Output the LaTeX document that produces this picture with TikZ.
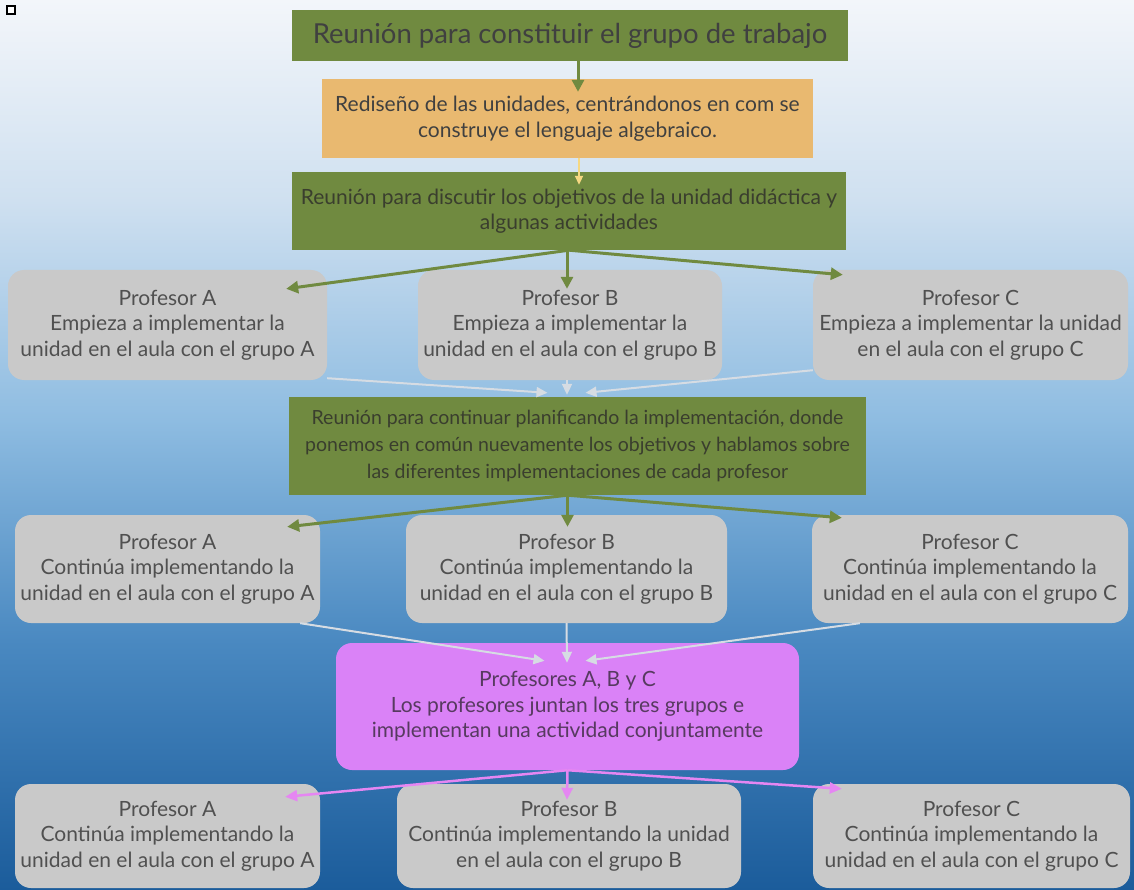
\documentclass[tikz,border=0pt]{standalone}
\usepackage{fontspec}
\setmainfont{Lato}
\usetikzlibrary{arrows.meta,calc}

\definecolor{bgA}{HTML}{F3F6FA}
\definecolor{bgB}{HTML}{CFE0F0}
\definecolor{bgC}{HTML}{8EBCE1}
\definecolor{bgD}{HTML}{4A89C1}
\definecolor{bgE}{HTML}{1B5C9B}
\definecolor{olive}{HTML}{708A40}
\definecolor{olivetext}{HTML}{3A3E2E}
\definecolor{sand}{HTML}{E9B970}
\definecolor{boxgray}{HTML}{C9C9C9}
\definecolor{graytext}{HTML}{505050}
\definecolor{violet}{HTML}{DA82F7}
\definecolor{violettext}{HTML}{573A60}
\definecolor{paleline}{HTML}{D6DCE3}
\definecolor{pinkline}{HTML}{E586F2}
\definecolor{yellowline}{HTML}{F6D882}

\tikzset{
  box/.style={inner sep=0pt, align=center, font=\fontsize{21}{25.5}\selectfont},
  greenbox/.style={box, fill=olive, text=olivetext},
  sandbox/.style={box, fill=sand, text=black!75},
  graybox/.style={box, fill=boxgray, text=graytext, rounded corners=16pt},
  pinkbox/.style={box, fill=violet, text=violettext, rounded corners=16pt},
  garrow/.style={draw=olive, line width=3pt, -{Triangle[length=12pt,width=12pt]}},
  parrow/.style={draw=paleline, line width=2pt, -{Triangle[length=11pt,width=10pt]}},
  marrow/.style={draw=pinkline, line width=2.5pt, -{Triangle[length=12pt,width=11pt]}},
  yarrow/.style={draw=yellowline, line width=2pt, -{Triangle[length=9pt,width=8pt]}},
}

\begin{document}
\begin{tikzpicture}[x=1pt,y=-1pt]
\useasboundingbox (0,0) rectangle (1134,890);

% background gradient, top to bottom
\shade[top color=bgA, bottom color=bgB] (0,0) rectangle (1134,201);
\shade[top color=bgB, bottom color=bgC] (0,200) rectangle (1134,421);
\shade[top color=bgC, bottom color=bgD] (0,420) rectangle (1134,641);
\shade[top color=bgD, bottom color=bgE] (0,640) rectangle (1134,890);

% small marker in the corner
\draw[line width=1.2pt, fill=white] (7,6) rectangle (15,14);

% boxes
\node[greenbox, text=black!75, font=\fontsize{27.5}{32}\selectfont, minimum width=556pt, minimum height=51pt] (title) at (570,35.5) {Reunión para constituir el grupo de trabajo};
\node[sandbox, minimum width=491pt, minimum height=79pt] (redesign) at (567.5,118.5) {Rediseño de las unidades, centrándonos en com se\\construye el lenguaje algebraico.};
\node[greenbox, minimum width=554pt, minimum height=78pt] (goals) at (569,211) {Reunión para discutir los objetivos de la unidad didáctica y\\algunas actividades};

\node[graybox, minimum width=319pt, minimum height=110pt] (a1) at (167.5,325) {Profesor A\\Empieza a implementar la\\unidad en el aula con el grupo A};
\node[graybox, minimum width=304pt, minimum height=110pt] (b1) at (570,325) {Profesor B\\Empieza a implementar la\\unidad en el aula con el grupo B};
\node[graybox, minimum width=315pt, minimum height=110pt] (c1) at (970.5,325) {Profesor C\\Empieza a implementar la unidad\\en el aula con el grupo C};

\node[greenbox, font=\fontsize{19.5}{27}\selectfont, minimum width=577pt, minimum height=98pt] (plan) at (577.5,446) {Reunión para continuar planificando la implementación, donde\\ponemos en común nuevamente los objetivos y hablamos sobre\\las diferentes implementaciones de cada profesor};

\node[graybox, minimum width=305pt, minimum height=108pt] (a2) at (167.5,569) {Profesor A\\Continúa implementando la\\unidad en el aula con el grupo A};
\node[graybox, minimum width=321pt, minimum height=108pt] (b2) at (566.5,569) {Profesor B\\Continúa implementando la\\unidad en el aula con el grupo B};
\node[graybox, minimum width=316pt, minimum height=108pt] (c2) at (970,569) {Profesor C\\Continúa implementando la\\unidad en el aula con el grupo C};

\node[pinkbox, minimum width=463pt, minimum height=127pt] (joint) at (567.5,706.5) {Profesores A, B y C\\Los profesores juntan los tres grupos e\\implementan una actividad conjuntamente};

\node[graybox, minimum width=305pt, minimum height=104pt] (a3) at (167.5,836) {Profesor A\\Continúa implementando la\\unidad en el aula con el grupo A};
\node[graybox, minimum width=344pt, minimum height=104pt] (b3) at (569,836) {Profesor B\\Continúa implementando la unidad\\en el aula con el grupo B};
\node[graybox, minimum width=317pt, minimum height=104pt] (c3) at (971.5,836) {Profesor C\\Continúa implementando la\\unidad en el aula con el grupo C};

% connectors
\draw[garrow] ($(title.south)+(8,0)$) -- ($(redesign.north)+(10.5,13)$);
\draw[yarrow] ($(redesign.south)+(11.5,0)$) -- ($(goals.north)+(10,13)$);

\draw[garrow] (goals.south) -- ($(a1.north east)+(-41,19)$);
\draw[garrow] ($(goals.south)+(-2,0)$) -- ($(b1.north)+(-3,19)$);
\draw[garrow] (goals.south) -- ($(c1.north west)+(30,5)$);

\draw[parrow] ($(a1.south east)+(0,-2)$) -- ($(plan.north)+(-30,-4)$);
\draw[parrow] ($(b1.south)+(-3,0)$) -- ($(plan.north)+(-10.5,-2)$);
\draw[parrow] ($(c1.south west)+(0,-10)$) -- ($(plan.north)+(8,-4)$);

\draw[garrow] ($(plan.south)+(-10,0)$) -- ($(a2.north east)+(-33,12)$);
\draw[garrow] ($(plan.south)+(-10,0)$) -- ($(b2.north)+(1,12)$);
\draw[garrow] ($(plan.south)+(-10,0)$) -- ($(c2.north west)+(30,3)$);

\draw[parrow] ($(a2.south east)+(-20,0)$) -- ($(joint.north)+(-23,18)$);
\draw[parrow] (b2.south) -- ($(joint.north)+(-0.5,20)$);
\draw[parrow] ($(c2.south west)+(48,0)$) -- ($(joint.north)+(18,18)$);

\draw[marrow] (joint.south) -- ($(a3.north east)+(-35,13)$);
\draw[marrow] (joint.south) -- ($(b3.north)+(-2,16)$);
\draw[marrow] (joint.south) -- ($(c3.north west)+(29,5)$);
\end{tikzpicture}
\end{document}
